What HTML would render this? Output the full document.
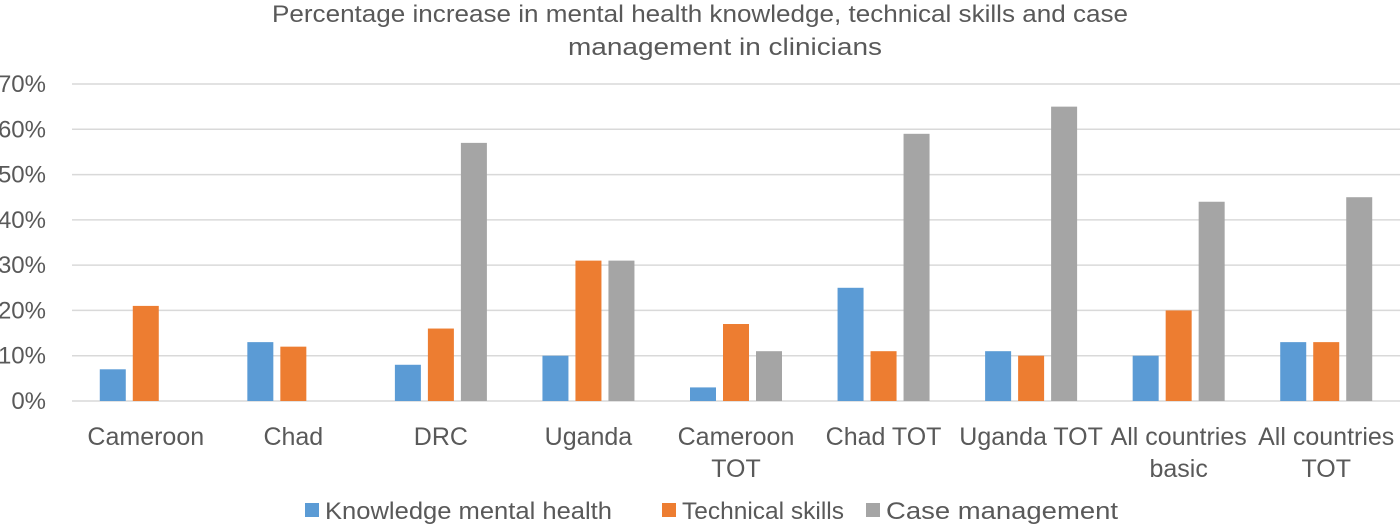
<!DOCTYPE html>
<html><head><meta charset="utf-8"><style>
body{margin:0;background:#fff;}
svg text{font-family:"Liberation Sans",sans-serif;fill:#595959;}
</style></head><body>
<svg width="1400" height="525">
<text x="272" y="22" font-size="24" textLength="856" lengthAdjust="spacingAndGlyphs">Percentage increase in mental health knowledge, technical skills and case</text>
<text x="568" y="55" font-size="24" textLength="314" lengthAdjust="spacingAndGlyphs">management in clinicians</text>
<g id="grid"></g><g id="bars"></g><g id="xl"></g>
<g>
<rect x="305" y="503" width="14" height="14" fill="#5b9bd5"/>
<text x="325" y="519" font-size="24" textLength="287" lengthAdjust="spacingAndGlyphs">Knowledge mental health</text>
<rect x="662" y="503" width="14" height="14" fill="#ed7d31"/>
<text x="682" y="519" font-size="24" textLength="162" lengthAdjust="spacingAndGlyphs">Technical skills</text>
<rect x="866" y="503" width="14" height="14" fill="#a5a5a5"/>
<text x="886" y="519" font-size="24" textLength="232" lengthAdjust="spacingAndGlyphs">Case management</text>
</g>
</svg>
<script>
const categories=[["Cameroon"],["Chad"],["DRC"],["Uganda"],["Cameroon","TOT"],["Chad TOT"],["Uganda TOT"],["All countries","basic"],["All countries","TOT"]];
const knowledge=[7,13,8,10,3,25,11,10,13];
const technical=[21,12,16,31,17,11,10,20,13];
const caseMgmt=[0,0,57,31,11,59,65,44,45];
const ticks=[0,10,20,30,40,50,60,70];
const series=[{v:knowledge,c:"#5b9bd5",n:"knowledge"},{v:technical,c:"#ed7d31",n:"technical"},{v:caseMgmt,c:"#a5a5a5",n:"case"}];
const NS="http://www.w3.org/2000/svg";
const x0=72,x1=1400,y0=401,y70=84;
const y=v=>y0-(v/70)*(y0-y70);
const cw=(x1-x0)/categories.length;
const cx=i=>x0+cw*(i+0.5);
const g=document.getElementById("grid"),b=document.getElementById("bars"),xl=document.getElementById("xl");
ticks.forEach(t=>{
 const l=document.createElementNS(NS,"line");
 
 
 l.setAttribute("x1",x0);l.setAttribute("x2",x1);l.setAttribute("y1",y(t));l.setAttribute("y2",y(t));
 l.setAttribute("stroke","#d9d9d9");l.setAttribute("stroke-width","1.5");g.appendChild(l);
 const tx=document.createElementNS(NS,"text");
 
 
 tx.setAttribute("x",46);tx.setAttribute("y",y(t)+8);tx.setAttribute("font-size","24");tx.setAttribute("text-anchor","end");
 tx.textContent=t+"%";g.appendChild(tx);
});
series.forEach((s,si)=>{
 s.v.forEach((v,i)=>{
  if(v<=0)return;
  const r=document.createElementNS(NS,"rect");
  
  
  r.setAttribute("x",cx(i)-13+(si-1)*33);r.setAttribute("width",26);
  r.setAttribute("y",y(v));r.setAttribute("height",y0-y(v));r.setAttribute("fill",s.c);
  b.appendChild(r);
 });
});
categories.forEach((c,i)=>{
 c.forEach((line,k)=>{
  const t=document.createElementNS(NS,"text");
  
  
  t.setAttribute("x",cx(i));t.setAttribute("y",445+k*32);t.setAttribute("font-size","25");t.setAttribute("text-anchor","middle");
  t.textContent=line;xl.appendChild(t);
 });
});
</script>
</body></html>
